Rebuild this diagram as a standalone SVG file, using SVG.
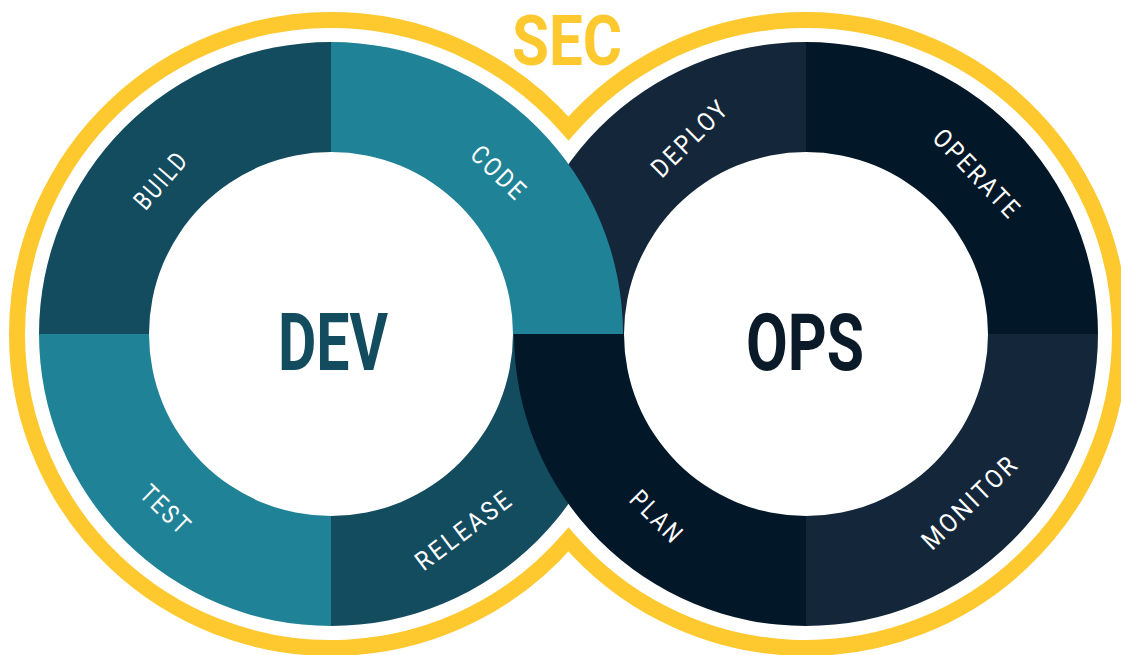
<svg xmlns="http://www.w3.org/2000/svg" width="1121" height="655" viewBox="0 0 1121 655">
  <style>
    .dteal { fill: #134c5f; }
    .teal { fill: #1f8297; }
    .navy { fill: #14273a; }
    .dnavy { fill: #021728; }
    .lbl { font-family: Roboto, "Liberation Sans", sans-serif; font-size: 26px; font-weight: 400; letter-spacing: 3px; fill: #ffffff; text-anchor: middle; }
    .big { font-family: Roboto, "Liberation Sans", sans-serif; font-weight: 700; text-anchor: middle; }
  </style>
  <rect width="1121" height="655" fill="#ffffff"/>
  <g id="outline">
    <path d="M568.5,128.6 A314,314 0 1 0 568.5,539.4 A314,314 0 1 0 568.5,128.6 Z" fill="none" stroke="#fec82f" stroke-width="16" stroke-linejoin="miter" stroke-miterlimit="10"/>
  </g>
  <g id="sec">
    <text class="big" x="567" y="65" font-size="71" fill="#fec82f" textLength="110" lengthAdjust="spacingAndGlyphs">SEC</text>
  </g>
  <g id="build">
    <path class="dteal" d="M39,334 A292,292 0 0 1 331,42 L331,152 A182,182 0 0 0 149,334 Z"/>
    <text class="lbl" transform="translate(161,180) rotate(-49)" y="9" textLength="68" lengthAdjust="spacingAndGlyphs">BUILD</text>
  </g>
  <g id="test">
    <path class="teal" d="M39,334 L149,334 A182,182 0 0 0 331,516 L331,626 A292,292 0 0 1 39,334 Z"/>
    <text class="lbl" transform="translate(166,510) rotate(44)" y="9" textLength="60" lengthAdjust="spacingAndGlyphs">TEST</text>
  </g>
  <g id="release">
    <path class="dteal" d="M623,334 A292,292 0 0 1 331,626 L331,516 A182,182 0 0 0 513,334 Z"/>
    <text class="lbl" transform="translate(464,530) rotate(-37)" y="9" textLength="115" lengthAdjust="spacingAndGlyphs">RELEASE</text>
  </g>
  <g id="deploy">
    <path class="navy" d="M514,334 A292,292 0 0 1 806,42 L806,152 A182,182 0 0 0 624,334 Z"/>
    <text class="lbl" transform="translate(690,138) rotate(-45)" y="9" textLength="98" lengthAdjust="spacingAndGlyphs">DEPLOY</text>
  </g>
  <g id="operate">
    <path class="dnavy" d="M806,42 A292,292 0 0 1 1098,334 L988,334 A182,182 0 0 0 806,152 Z"/>
    <text class="lbl" transform="translate(977,174) rotate(46)" y="9" textLength="114" lengthAdjust="spacingAndGlyphs">OPERATE</text>
  </g>
  <g id="monitor">
    <path class="navy" d="M1098,334 A292,292 0 0 1 806,626 L806,516 A182,182 0 0 0 988,334 Z"/>
    <text class="lbl" transform="translate(970,502) rotate(-44)" y="9" textLength="123" lengthAdjust="spacingAndGlyphs">MONITOR</text>
  </g>
  <g id="plan">
    <path class="dnavy" d="M514,334 L624,334 A182,182 0 0 0 806,516 L806,626 A292,292 0 0 1 514,334 Z"/>
    <text class="lbl" transform="translate(657,517) rotate(45)" y="9" textLength="64" lengthAdjust="spacingAndGlyphs">PLAN</text>
  </g>
  <g id="code">
    <path class="teal" d="M331,42 A292,292 0 0 1 623,334 L513,334 A182,182 0 0 0 331,152 Z"/>
    <text class="lbl" transform="translate(499,173) rotate(44)" y="9" textLength="67" lengthAdjust="spacingAndGlyphs">CODE</text>
  </g>
  <g id="dev">
    <text class="big" x="333" y="370" font-size="80" fill="#134c5f" textLength="110" lengthAdjust="spacingAndGlyphs">DEV</text>
  </g>
  <g id="ops">
    <text class="big" x="805" y="370" font-size="80" fill="#0b1a28" textLength="118" lengthAdjust="spacingAndGlyphs">OPS</text>
  </g>
</svg>
